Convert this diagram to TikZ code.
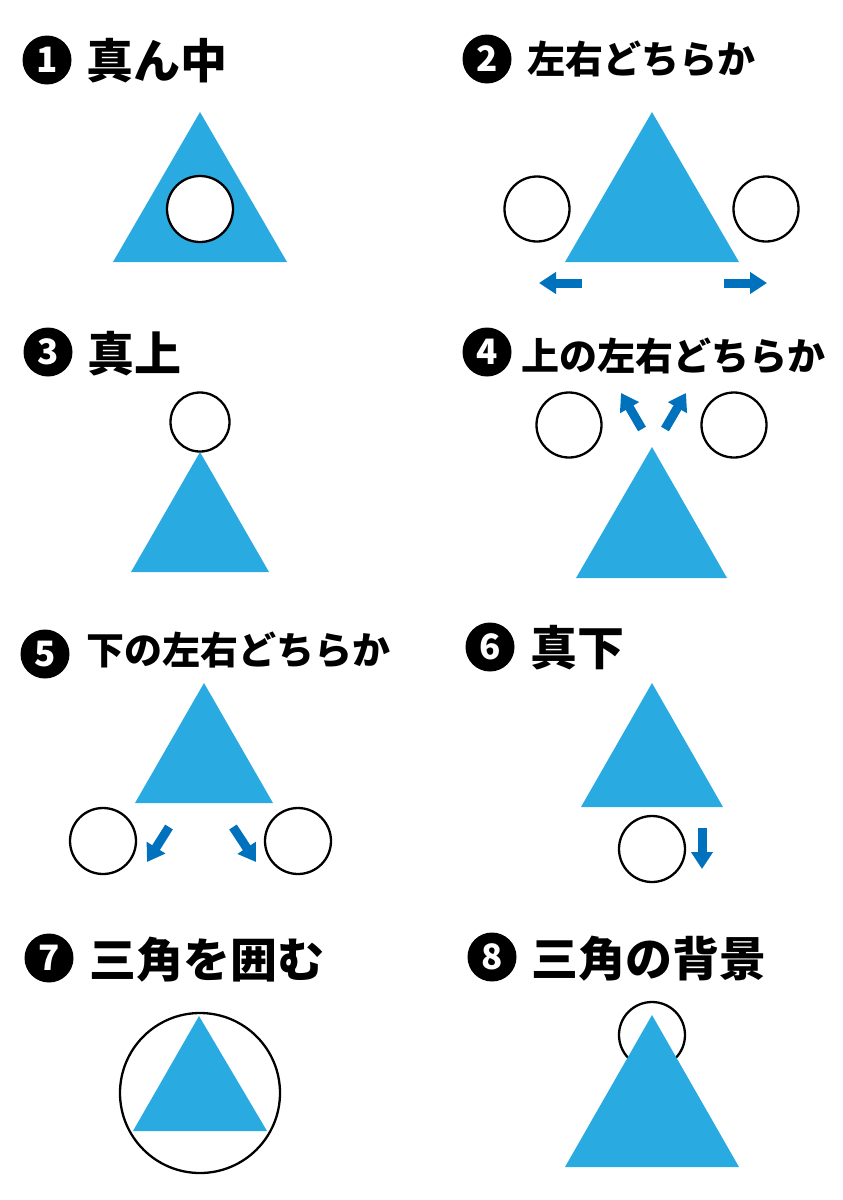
\documentclass[tikz,border=0pt]{standalone}
\usepackage{fontspec}
\newfontfamily\cjk{Noto Sans CJK JP}
\usetikzlibrary{arrows.meta}
\definecolor{triblue}{HTML}{29ABE2}
\definecolor{arrblue}{HTML}{0071BC}
\tikzset{
  tri/.style={fill=triblue, draw=none},
  ring/.style={draw=black, line width=2.3pt, fill=white},
  mv/.style={draw=arrblue, line width=9pt, -{Triangle[length=17pt,width=21pt]}},
  numc/.style={circle, fill=black, text=white, minimum size=49pt, inner sep=0pt,
    font=\cjk\bfseries\fontsize{35}{35}\selectfont},
  ttl/.style={anchor=base west, inner sep=0pt, font=\cjk\bfseries\fontsize{47}{50}\selectfont},
  ttls/.style={anchor=base west, inner sep=0pt, font=\cjk\bfseries\fontsize{38}{42}\selectfont},
}
\begin{document}
\begin{tikzpicture}[x=1pt, y=-1pt]
\useasboundingbox (0,0) rectangle (843,1200);

% ---------- 1
\node[numc] (n1) at (47,60) {1};
\node[ttl] (t1) at (86,78) {真ん中};
\path[tri] (200,112) -- (287,262) -- (113,262) -- cycle;
\node[ring, circle, minimum size=66pt, inner sep=0pt] (c1) at (200,209) {};

% ---------- 2
\node[numc] (n2) at (487,59) {2};
\node[ttls] (t2) at (527,73) {左右どちらか};
\path[tri] (652,112) -- (739,262) -- (565,262) -- cycle;
\node[ring, circle, minimum size=65pt, inner sep=0pt] (c2l) at (537,209) {};
\node[ring, circle, minimum size=65pt, inner sep=0pt] (c2r) at (766,209) {};
\coordinate (a2lt) at (582,283); \coordinate (a2lh) at (539,283);
\coordinate (a2rt) at (724,283); \coordinate (a2rh) at (767,283);
\draw[mv] (a2lt) -- (a2lh);
\draw[mv] (a2rt) -- (a2rh);

% ---------- 3
\node[numc] (n3) at (48,352) {3};
\node[ttl] (t3) at (87,371) {真上};
\path[tri] (200,452) -- (269,572) -- (131,572) -- cycle;
\node[ring, circle, minimum size=59pt, inner sep=0pt] (c3) at (200,422) {};

% ---------- 4
\node[numc] (n4) at (487,352) {4};
\node[ttls] (t4) at (521,370) {上の左右どちらか};
\path[tri] (652,447) -- (727,578) -- (576,578) -- cycle;
\node[ring, circle, minimum size=65pt, inner sep=0pt] (c4l) at (569,425) {};
\node[ring, circle, minimum size=65pt, inner sep=0pt] (c4r) at (734,425) {};
\coordinate (a4lt) at (642,429); \coordinate (a4lh) at (621,393);
\coordinate (a4rt) at (665,429); \coordinate (a4rh) at (686,393);
\draw[mv] (a4lt) -- (a4lh);
\draw[mv] (a4rt) -- (a4rh);

% ---------- 5
\node[numc] (n5) at (45,654) {5};
\node[ttls] (t5) at (86,664) {下の左右どちらか};
\path[tri] (204,683) -- (273,803) -- (135,803) -- cycle;
\node[ring, circle, minimum size=66pt, inner sep=0pt] (c5l) at (103,841) {};
\node[ring, circle, minimum size=66pt, inner sep=0pt] (c5r) at (298,841) {};
\coordinate (a5lt) at (169,827); \coordinate (a5lh) at (147,862);
\coordinate (a5rt) at (233,827); \coordinate (a5rh) at (256,862);
\draw[mv] (a5lt) -- (a5lh);
\draw[mv] (a5rt) -- (a5rh);

% ---------- 6
\node[numc] (n6) at (490,647) {6};
\node[ttl] (t6) at (530,665) {真下};
\path[tri] (652,683) -- (723,807) -- (581,807) -- cycle;
\node[ring, circle, minimum size=66pt, inner sep=0pt] (c6) at (652,849) {};
\coordinate (a6t) at (702,828); \coordinate (a6h) at (702,869);
\draw[mv] (a6t) -- (a6h);

% ---------- 7
\node[numc] (n7) at (49,958) {7};
\node[ttl] (t7) at (89,977) {三角を囲む};
\node[ring, circle, minimum size=160pt, inner sep=0pt] (c7) at (200,1093) {};
\path[tri] (199,1016) -- (267,1131) -- (133,1131) -- cycle;

% ---------- 8
\node[numc] (n8) at (492,957) {8};
\node[ttl] (t8) at (531,976) {三角の背景};
\node[ring, circle, minimum size=66pt, inner sep=0pt] (c8) at (652,1035) {};
\path[tri] (652,1015) -- (739,1167) -- (565,1167) -- cycle;
\end{tikzpicture}
\end{document}
